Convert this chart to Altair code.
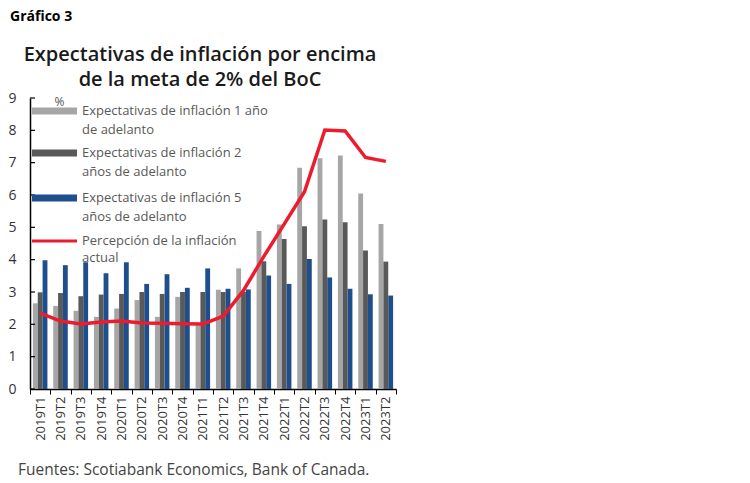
import altair as alt
import pandas as pd

quarters = ["2019T1", "2019T2", "2019T3", "2019T4", "2020T1", "2020T2", "2020T3", "2020T4",
            "2021T1", "2021T2", "2021T3", "2021T4", "2022T1", "2022T2", "2022T3", "2022T4",
            "2023T1", "2023T2"]
exp_1y = [2.65, 2.57, 2.42, 2.23, 2.49, 2.75, 2.23, 2.85, 2.00, 3.07, 3.73, 4.89,
          5.09, 6.84, 7.14, 7.22, 6.05, 5.10]
exp_2y = [2.99, 2.97, 2.87, 2.92, 2.94, 3.00, 2.94, 3.00, 3.00, 3.00, 3.00, 3.95,
          4.64, 5.03, 5.24, 5.16, 4.28, 3.94]
exp_5y = [3.98, 3.83, 3.92, 3.58, 3.92, 3.25, 3.55, 3.13, 3.73, 3.10, 3.08, 3.51,
          3.25, 4.02, 3.45, 3.10, 2.93, 2.89]
perc_actual = [2.35, 2.10, 2.01, 2.07, 2.10, 2.04, 2.03, 2.02, 2.01, 2.25, 3.05, 4.10,
               5.10, 6.10, 8.01, 7.98, 7.16, 7.04]

series = ["Expectativas de inflación 1 año|de adelanto",
          "Expectativas de inflación 2|años de adelanto",
          "Expectativas de inflación 5|años de adelanto"]
line_name = "Percepción de la inflación|actual"
y_ticks = [0, 1, 2, 3, 4, 5, 6, 7, 8, 9]
title_text = "Expectativas de inflación por encima|de la meta de 2% del BoC"
header_text = "Gráfico 3"
footer_text = "Fuentes: Scotiabank Economics, Bank of Canada."

bar_colors = ["#a6a6a6", "#595959", "#1f4e8c"]
red = "#ec1c2e"
FONT = "Open Sans"

rows = []
for i, q in enumerate(quarters):
    for s, vals in zip(series, [exp_1y, exp_2y, exp_5y]):
        rows.append({"q": q, "serie": s, "v": vals[i]})
bars_df = pd.DataFrame(rows)
line_df = pd.DataFrame({"q": quarters, "v": perc_actual})
ticks_df = pd.DataFrame({"v": y_ticks})

x_axis = alt.Axis(title=None, labelAngle=-90, labelFont=FONT, labelFontSize=13,
                  labelColor="#333333", tickBand="extent", tickSize=5,
                  tickColor="#000000", domainColor="#000000", domainWidth=1.5,
                  labelPadding=2, grid=False)
x_scale = alt.Scale(paddingInner=0, paddingOuter=0)
y_scale = alt.Scale(domain=[0, 9], nice=False)
y_axis = alt.Axis(title="%", titleAngle=0, titleX=29, titleY=3, titleAlign="center",
                  titleBaseline="middle", titleFont=FONT, titleFontSize=12,
                  titleFontWeight="normal", titleColor="#555555",
                  values=y_ticks, tickCount=10, labelFont=FONT, labelFontSize=14,
                  labelColor="#333333", labelOverlap=False, labelFlush=False,
                  ticks=False, labelPadding=14,
                  domainColor="#000000", domainWidth=1.5, grid=False)

bars = alt.Chart(bars_df).mark_bar().encode(
    x=alt.X("q:N", sort=quarters, scale=x_scale, axis=x_axis),
    xOffset=alt.XOffset("serie:N", sort=series, scale=alt.Scale(paddingOuter=0.6, paddingInner=0)),
    y=alt.Y("v:Q", scale=y_scale, axis=y_axis),
    color=alt.Color("serie:N", sort=series,
                    scale=alt.Scale(domain=series, range=bar_colors), legend=None),
)

line = alt.Chart(line_df).mark_line(strokeWidth=3.5, color=red).encode(
    x=alt.X("q:N", sort=quarters, scale=x_scale, axis=x_axis),
    y=alt.Y("v:Q", scale=y_scale, axis=y_axis),
)

yticks = alt.Chart(ticks_df).mark_rule(color="#000000", strokeWidth=1.2).encode(
    y=alt.Y("v:Q", scale=y_scale, axis=y_axis), x=alt.value(0), x2=alt.value(5)
)


def text_layer(txt, x, y, size, color, weight="normal", align="left", line_h=19):
    return alt.Chart(pd.DataFrame({"t": [txt]})).mark_text(
        align=align, baseline="middle", font=FONT, fontSize=size, fontWeight=weight,
        color=color, lineBreak="|", lineHeight=line_h
    ).encode(text="t:N", x=alt.value(x), y=alt.value(y))


# legend (drawn at the top-left, inside the plot, as in the reference)
legend_layers = []
legend_rows = [13, 55, 100]
for s, c, yc in zip(series, bar_colors, legend_rows):
    legend_layers.append(
        alt.Chart(pd.DataFrame({"t": [s]})).mark_rect(color=c).encode(
            x=alt.value(2), x2=alt.value(47), y=alt.value(yc - 3.5), y2=alt.value(yc + 3.5))
    )
    legend_layers.append(text_layer(s, 52, yc, 13, "#595959"))
legend_layers.append(
    alt.Chart(pd.DataFrame({"t": [line_name]})).mark_rule(color=red, strokeWidth=3).encode(
        x=alt.value(2), x2=alt.value(47), y=alt.value(143))
)
legend_layers.append(text_layer(line_name, 52, 143, 13, "#595959", line_h=17))

header = text_layer(header_text, -20, -81, 14, "#000000", weight="bold")
title = text_layer(title_text, 170, -43, 20, "#1a1a1a", weight=600, align="center", line_h=25)
footer = text_layer(footer_text, -12, 372, 15.5, "#444444")

chart = alt.layer(bars, line, yticks, *legend_layers, header, title, footer).properties(
    width=366, height=291,
    autosize=alt.AutoSizeParams(type="none"),
    padding={"left": 22, "top": 90, "right": 300, "bottom": 100},
).configure_view(stroke=None)

chart.save("out.html", embed_options={"renderer": "svg", "actions": False})
